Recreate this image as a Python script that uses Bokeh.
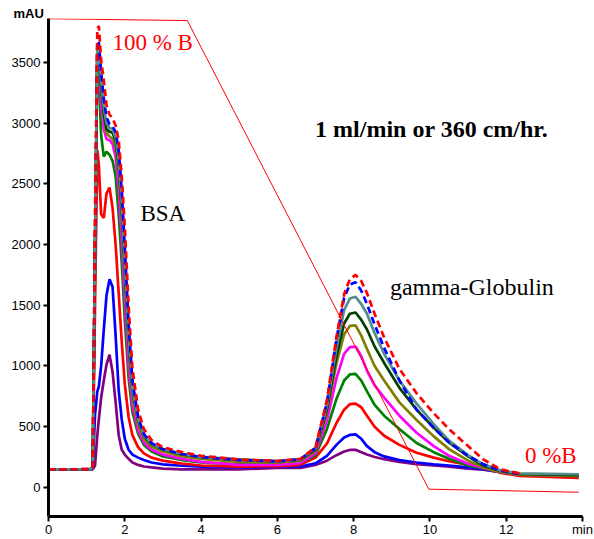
from bokeh.plotting import figure
from bokeh.models import Label, Range1d, FixedTicker
from bokeh.embed import file_html
from bokeh.resources import INLINE

nan = float("nan")

# time axis (min)
t = [0, 1.1, 1.16, 1.22, 1.28, 1.32, 1.38, 1.45, 1.52, 1.6, 1.68, 1.76, 1.84, 1.92, 2.0,
     2.1, 2.2, 2.35, 2.5, 2.7, 3.0, 3.5, 4.0, 5.0, 6.0,
     6.6, 7.0, 7.3, 7.55, 7.75, 7.9, 8.05, 8.2, 8.35, 8.55, 8.8, 9.2, 9.65, 10.1, 10.5,
     11.0, 11.4, 11.85, 12.35, 13.9]

red_dashed = [148, 150, 170, 2200, 3780, 3800, 3520, 3350, 3150, 3070, 3040, 2980, 2860, 2560, 2150,
              1500, 980, 640, 480, 390, 330, 290, 260, 230, 218,
              235, 330, 720, 1240, 1590, 1715, 1750, 1700, 1600, 1430, 1235, 975, 775, 610, 480,
              340, 230, 148, 115, nan]
blue_dashed = [148, 150, 170, 2100, 3680, 3660, 3420, 3200, 3050, 2990, 2970, 2930, 2780, 2450, 1980,
               1350, 880, 580, 440, 365, 315, 275, 250, 225, 215,
               232, 325, 700, 1220, 1560, 1670, 1690, 1620, 1510, 1340, 1150, 880, 640, 490, 370,
               260, 190, 140, 110, nan]
teal = [148, 150, 165, 2000, 3620, 3600, 3350, 3130, 3000, 2960, 2950, 2880, 2700, 2350, 1850,
        1250, 820, 560, 430, 360, 315, 275, 250, 228, 215,
        230, 320, 670, 1150, 1460, 1555, 1570, 1510, 1430, 1270, 1100, 880, 690, 520, 385,
        265, 190, 140, 115, 108]
dark_green = [148, 150, 165, 2000, 3600, 3580, 3300, 3080, 2950, 2930, 2920, 2850, 2650, 2300, 1800,
              1200, 800, 550, 425, 355, 312, 272, 250, 228, 215,
              228, 310, 640, 1080, 1350, 1430, 1440, 1380, 1300, 1160, 1025, 820, 640, 490, 370,
              255, 180, 135, 110, 100]
olive = [148, 150, 165, 1950, 3580, 3560, 3280, 3050, 2920, 2890, 2870, 2800, 2600, 2250, 1750,
         1150, 760, 520, 400, 335, 295, 255, 235, 210, 205,
         218, 300, 620, 1020, 1260, 1330, 1335, 1250, 1140, 1000, 880, 700, 555, 420, 315,
         220, 165, 128, 105, 95]
magenta = [148, 150, 165, 1950, 3570, 3500, 3150, 2950, 2870, 2860, 2830, 2720, 2450, 2050, 1550,
           1000, 680, 470, 370, 310, 270, 235, 210, 185, 185,
           200, 280, 550, 900, 1100, 1155, 1160, 1080, 960, 840, 740, 590, 450, 340, 260,
           195, 160, 125, 105, 95]
green = [148, 150, 165, 1900, 3540, 3380, 2900, 2725, 2765, 2740, 2690, 2560, 2250, 1850, 1380,
         900, 620, 440, 350, 295, 255, 225, 205, 190, 190,
         200, 265, 480, 730, 880, 930, 935, 880, 790, 680, 590, 480, 365, 290, 235,
         180, 155, 125, 105, 92]
red = [148, 150, 160, 1500, 2780, 2650, 2250, 2220, 2420, 2470, 2300, 2000, 1600, 1200, 850,
       580, 430, 330, 280, 245, 220, 195, 180, 170, 175,
       185, 245, 360, 530, 640, 685, 690, 660, 590, 500, 425, 350, 285, 245, 215,
       185, 160, 120, 95, 78]
blue = [148, 150, 160, 600, 790, 830, 1000, 1300, 1580, 1715, 1650, 1250, 800, 560, 400,
        310, 270, 245, 225, 205, 190, 178, 170, 164, 170,
        172, 198, 260, 350, 410, 432, 436, 400, 340, 290, 255, 225, 205, 190, 180,
        165, 150, 125, 100, 90]
purple = [148, 148, 148, 180, 430, 560, 740, 880, 1010, 1093, 950, 700, 430, 310, 270,
          235, 205, 185, 172, 164, 155, 148, 148, 148, 160,
          160, 185, 220, 265, 295, 308, 310, 290, 270, 250, 232, 210, 192, 180, 170,
          155, 145, 125, 100, 90]

# gradient (%B) trace drawn in mAU space
grad_t = [0, 3.64, 9.97, 13.9]
grad_y = [3860, 3845, -15, -40]

x_ticks = [0, 2, 4, 6, 8, 10, 12, 14]
x_tick_labels = {14: "min"}
y_ticks = [0, 500, 1000, 1500, 2000, 2500, 3000, 3500]

series = [
    (purple, "#800080", "solid"),
    (blue, "#0000ff", "solid"),
    (red, "#ff0000", "solid"),
    (green, "#008000", "solid"),
    (magenta, "#ff00ff", "solid"),
    (olive, "#808000", "solid"),
    (dark_green, "#004000", "solid"),
    (teal, "#548c8c", "solid"),
    (blue_dashed, "#0000ff", "7 4"),
    (red_dashed, "#ff0000", "7 4"),
]

p = figure(width=594, height=539, output_backend="svg", toolbar_location=None,
           x_range=Range1d(0, 14), y_range=Range1d(-240, 3862),
           min_border_left=48, min_border_right=12, min_border_top=18, min_border_bottom=22)
p.outline_line_color = None
p.xgrid.visible = False
p.ygrid.visible = False

p.title.text = "mAU"
p.title.align = "left"
p.title.offset = -35
p.title.standoff = -5
p.title.text_font = "Liberation Sans"
p.title.text_font_style = "bold"
p.title.text_font_size = "13px"
p.title.text_color = "black"

for ys, col, dash in series:
    p.line(t, ys, line_color=col, line_width=2.7, line_dash=dash)

p.line(grad_t, grad_y, line_color="#ff0000", line_width=1)

for ax, ticks in ((p.xaxis[0], x_ticks), (p.yaxis[0], y_ticks)):
    ax.ticker = FixedTicker(ticks=ticks)
    ax.axis_line_width = 3
    ax.axis_line_color = "black"
    ax.major_tick_line_width = 2
    ax.major_tick_out = 5
    ax.major_tick_in = 0
    ax.minor_tick_line_color = None
    ax.major_label_standoff = 3
    ax.major_label_text_font = "Liberation Sans"
    ax.major_label_text_font_size = "13px"
    ax.major_label_text_color = "black"
p.xaxis[0].major_label_overrides = x_tick_labels
p.xaxis[0].major_label_standoff = 0
p.xaxis[0].major_label_text_line_height = 0.9

serif = "Liberation Serif"
annots = [
    ("100 % B", 1.675, 3666, "#ff0000", "normal", 23),
    ("1 ml/min or 360 cm/hr.", 6.99, 2951, "black", "bold", 24),
    ("BSA", 2.41, 2252, "black", "normal", 23),
    ("gamma-Globulin", 8.95, 1652, "black", "normal", 24),
    ("0 %B", 12.49, 263, "#ff0000", "normal", 23),
]
for txt, x, y, col, style, size in annots:
    p.add_layout(Label(x=x, y=y, text=txt, text_color=col, text_font=serif,
                       text_font_style=style, text_font_size=f"{size}px",
                       text_align="left", text_baseline="middle"))

open("out.html", "w").write(file_html(p, INLINE))
